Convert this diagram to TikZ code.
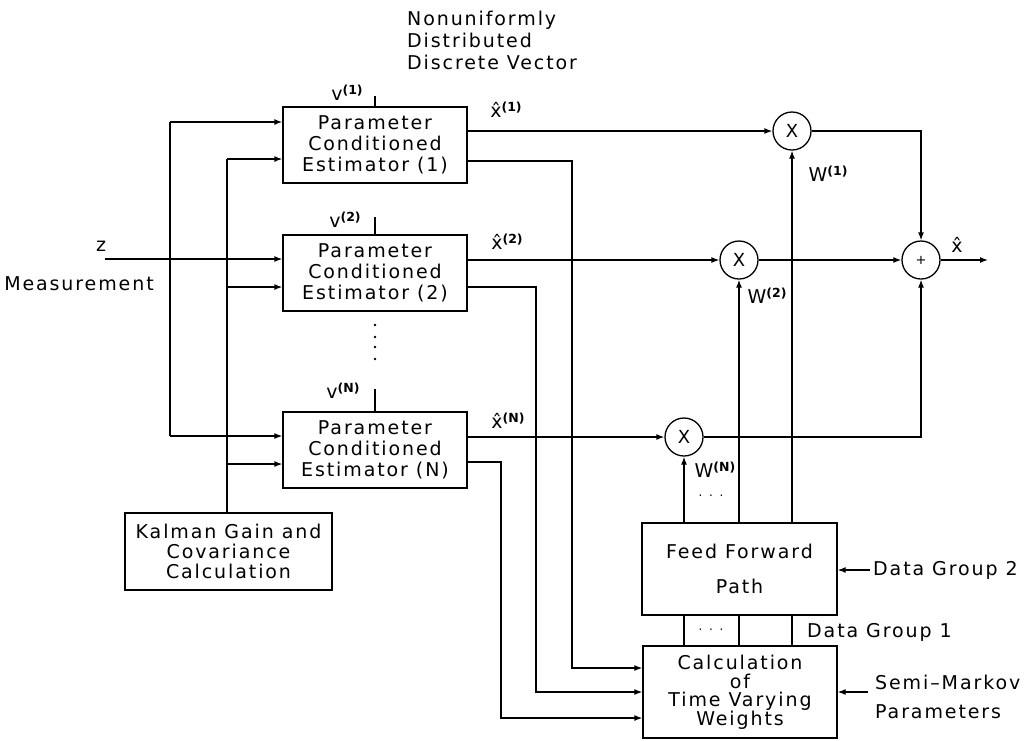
\documentclass[tikz,border=0pt]{standalone}
\usepackage{fontspec}
\setmainfont{DejaVu Sans}[LetterSpace=10]
\newfontfamily\plainfont{DejaVu Sans}
\usetikzlibrary{arrows.meta,calc}
\newcommand\mysup[1]{\raisebox{6pt}{\plainfont\fontsize{12.5}{12.5}\selectfont\bfseries(#1)}}
\tikzset{
  base/.style={line width=1.3pt},
  arr/.style={base,-{Latex[length=8pt,width=6pt]}},
  block/.style={draw,base,rectangle,inner sep=0pt,align=center,font=\fontsize{19}{21}\selectfont},
  mult/.style={draw,base,circle,minimum size=38pt,inner sep=0pt,font=\fontsize{18}{18}\selectfont},
  lbl/.style={inner sep=0pt,font=\fontsize{19}{22}\selectfont},
}
\begin{document}
\begin{tikzpicture}[x=1pt,y=-1pt]
\useasboundingbox (0,0) rectangle (1033,740);
% blocks
\node[block,minimum width=184pt,minimum height=76pt] (e1) at (375,145) {Parameter\\Conditioned\\Estimator (1)};
\node[block,minimum width=184pt,minimum height=76pt] (e2) at (375,273) {Parameter\\Conditioned\\Estimator (2)};
\node[block,minimum width=184pt,minimum height=76pt] (eN) at (375,450) {Parameter\\Conditioned\\Estimator (N)};
\node[block,minimum width=207pt,minimum height=77pt,font=\fontsize{19}{20}\selectfont] (kal) at (228.5,551.5) {Kalman Gain and\\Covariance\\Calculation};
\node[block,minimum width=195pt,minimum height=92pt] (ff) at (739.5,569) {Feed Forward\\[14pt]Path};
\node[block,minimum width=194pt,minimum height=92pt,font=\fontsize{19}{18.5}\selectfont] (calc) at (740,692) {Calculation\\of\\Time Varying\\Weights};
% multipliers and summer
\node[mult] (m1) at (792,131) {X};
\node[mult] (m2) at (739,260) {X};
\node[mult] (mN) at (684,437) {X};
\node[mult,font=\fontsize{13}{13}\selectfont] (sum) at (921,260) {+};
% measurement input
\coordinate (zin) at (105,259);
\coordinate (zb1) at (170,122);
\coordinate (zbN) at (170,436);
\draw[arr] (zin) -- (zin -| e2.west);
\draw[base] (zb1) -- (zbN);
\draw[arr] (zb1) -- (zb1 -| e1.west);
\draw[arr] (zbN) -- (zbN -| eN.west);
% Kalman bus
\coordinate (kb1) at (227,159);
\coordinate (kb2) at (227,287);
\coordinate (kbN) at (227,464);
\draw[base] (kb1) -- (kb1 |- kal.north);
\draw[arr] (kb1) -- (kb1 -| e1.west);
\draw[arr] (kb2) -- (kb2 -| e2.west);
\draw[arr] (kbN) -- (kbN -| eN.west);
% v stubs
\draw[base] (e1.north) -- ++(0,-10);
\draw[base] (e2.north) -- ++(0,-17);
\draw[base] (eN.north) -- ++(0,-22);
% estimates to multipliers
\draw[arr] (e1.east |- m1) -- (m1);
\draw[arr] (e2.east |- m2) -- (m2);
\draw[arr] (eN.east |- mN) -- (mN);
% estimates to weight calculation
\coordinate (c1) at (572,161); \coordinate (d1) at (572,668);
\coordinate (c2) at (536,287); \coordinate (d2) at (536,692);
\coordinate (cN) at (501,462); \coordinate (dN) at (501,718);
\draw[arr] (e1.east |- c1) -- (c1) -- (d1) -- (d1 -| calc.west);
\draw[arr] (e2.east |- c2) -- (c2) -- (d2) -- (d2 -| calc.west);
\draw[arr] (eN.east |- cN) -- (cN) -- (dN) -- (dN -| calc.west);
% weights
\draw[arr] (ff.north -| mN) -- (mN);
\draw[arr] (ff.north -| m2) -- (m2);
\draw[arr] (ff.north -| m1) -- (m1);
\draw[base] (ff.south -| mN) -- (calc.north -| mN);
\draw[base] (ff.south -| m2) -- (calc.north -| m2);
\draw[base] (ff.south -| m1) -- (calc.north -| m1);
% summation
\draw[arr] (m1) -| (sum);
\draw[arr] (m2) -- (sum);
\draw[arr] (mN) -| (sum);
\coordinate (xout) at (988,260);
\draw[arr] (sum) -- (xout);
% external data
\coordinate (dg2) at (870,570);
\draw[arr] (dg2) -- (dg2 -| ff.east);
\coordinate (smk) at (868,692);
\draw[arr] (smk) -- (smk -| calc.east);
% labels
\node[lbl,anchor=west,align=left] (top) at (407,40) {Nonuniformly\\Distributed\\Discrete Vector};
\node[lbl] (v1) at (347,93) {v\mysup{1}};
\node[lbl] (v2) at (345,220) {v\mysup{2}};
\node[lbl] (vN) at (343,391) {v\mysup{N}};
\node[lbl] (x1) at (506,110) {{\plainfont\^{x}}\mysup{1}};
\node[lbl] (x2) at (507,242) {{\plainfont\^{x}}\mysup{2}};
\node[lbl] (xN) at (508,421) {{\plainfont\^{x}}\mysup{N}};
\node[lbl] (xh) at (957,245) {{\plainfont\^{x}}};
\node[lbl] (w1) at (828,174) {W\mysup{1}};
\node[lbl] (w2) at (767,296) {W\mysup{2}};
\node[lbl] (wN) at (715,470) {W\mysup{N}};
\node[lbl,font=\fontsize{12}{12}\selectfont] (dt1) at (711,496) {. . .};
\node[lbl,font=\fontsize{12}{12}\selectfont] (dt2) at (711,630) {. . .};
\node[lbl] (z) at (101,246) {z};
\node[lbl] (meas) at (79,284) {Measurement};
\node[lbl,anchor=west] (dg2t) at (873,570) {Data Group 2};
\node[lbl,anchor=west] (dg1t) at (807,632) {Data Group 1};
\node[lbl,anchor=west,align=left,font=\fontsize{19}{29}\selectfont] (smt) at (875,697) {Semi--Markov\\Parameters};
% vertical ellipsis
\foreach \yy in {325,337,347,359} \fill (375,\yy) circle (1.4pt);
\end{tikzpicture}
\end{document}
